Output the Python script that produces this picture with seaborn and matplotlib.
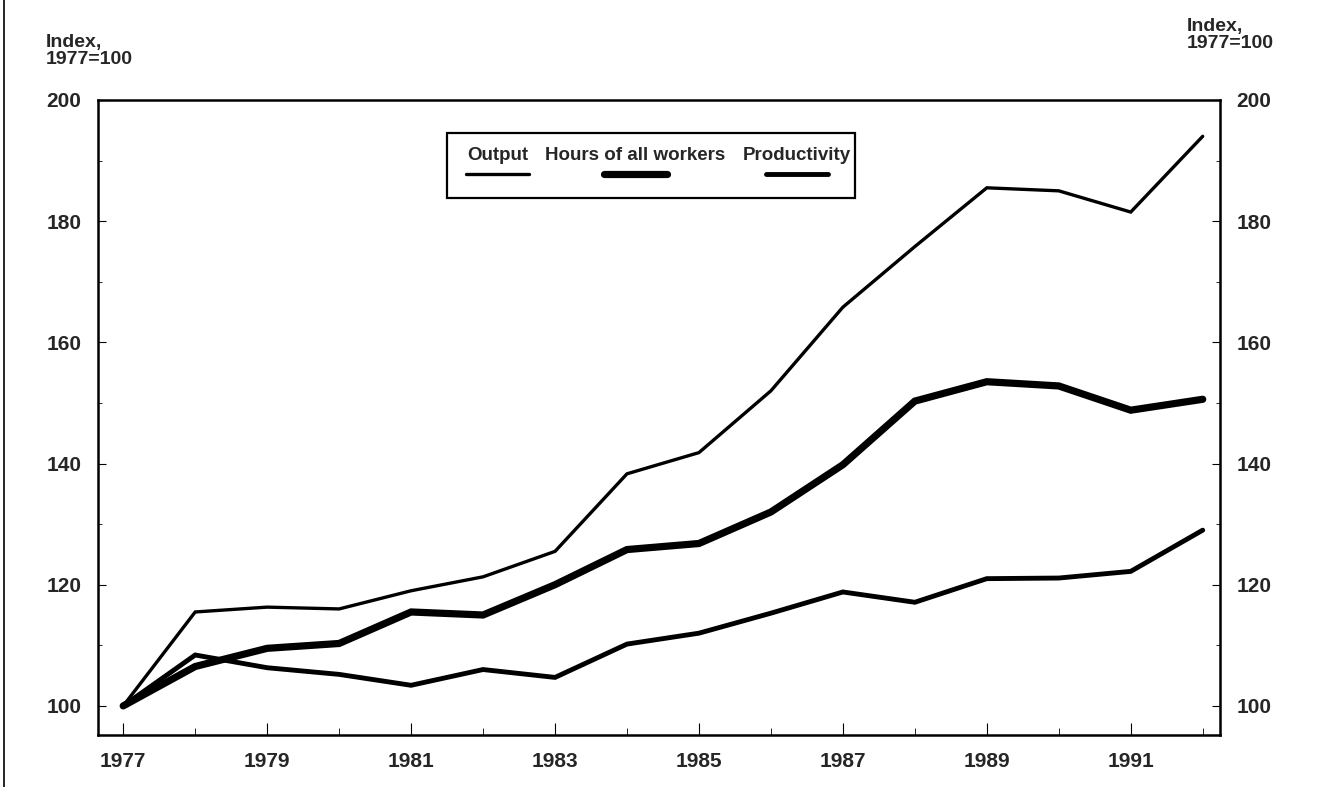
import numpy as np
import pandas as pd
import seaborn as sns
import matplotlib.pyplot as plt
from matplotlib.lines import Line2D
from matplotlib.patches import Rectangle
from matplotlib.ticker import MultipleLocator

years = list(range(1977, 1993))
output = [100, 115.5, 116.3, 116.0, 119.0, 121.3, 125.5, 138.3, 141.8, 152.0,
          165.8, 175.8, 185.5, 185.0, 181.5, 194.0]
hours = [100, 106.5, 109.5, 110.3, 115.5, 115.0, 120.0, 125.8, 126.8, 132.0,
         139.8, 150.3, 153.5, 152.8, 148.8, 150.6]
productivity = [100, 108.4, 106.3, 105.2, 103.4, 106.0, 104.7, 110.2, 112.0, 115.3,
                118.8, 117.1, 121.0, 121.1, 122.2, 129.0]
series_names = ["Output", "Hours of all workers", "Productivity"]
widths = [2.4, 5.2, 3.5]

df = pd.DataFrame({"year": years, "Output": output,
                   "Hours of all workers": hours, "Productivity": productivity})
long = df.melt(id_vars="year", var_name="series", value_name="index")

sns.set_style("ticks")
plt.rcParams['font.family'] = ['Liberation Sans', 'DejaVu Sans']
plt.rcParams['font.weight'] = 'bold'

fig = plt.figure(figsize=(13.32, 7.87), dpi=100)
ax = fig.add_axes([0.0736, 0.0661, 0.8423, 0.8069])

for name, lw in zip(series_names, widths):
    sub = long[long["series"] == name]
    sns.lineplot(data=sub, x="year", y="index", ax=ax, color="black",
                 linewidth=lw, solid_joinstyle="miter", legend=False)

ax.set_xlim(1976.65, 1992.24)
ax.set_ylim(95.2, 200)
ax.set_xticks(range(1977, 1993, 2))
ax.xaxis.set_minor_locator(MultipleLocator(1))
ax.yaxis.set_major_locator(MultipleLocator(20))
ax.yaxis.set_minor_locator(MultipleLocator(10))
ax.set_xlabel("")
ax.set_ylabel("")
ax.tick_params(axis="both", which="both", direction="in", color="black")
ax.tick_params(axis="y", which="major", length=6, width=0.8, right=True,
               labelright=True, labelsize=15, pad=12)
ax.tick_params(axis="y", which="minor", length=3, width=0.6, right=True)
ax.tick_params(axis="x", which="major", length=9, width=0.8, labelsize=15, pad=12)
ax.tick_params(axis="x", which="minor", length=5, width=0.6)
for lab in ax.get_xticklabels() + ax.get_yticklabels():
    lab.set_fontweight("bold")
for sp in ax.spines.values():
    sp.set_visible(True)
    sp.set_linewidth(1.8)
    sp.set_color("black")

# legend box: labels above line samples
ax.add_patch(Rectangle((0.311, 0.846), 0.364, 0.102, transform=ax.transAxes,
                       fill=False, edgecolor="black", linewidth=1.6, zorder=5))
text_x = [0.356, 0.479, 0.623]
for name, lw, tx in zip(series_names, widths, text_x):
    ax.text(tx, 0.913, name, transform=ax.transAxes, ha="center", va="center",
            fontsize=13.5, fontweight="bold", zorder=6)
    ax.add_line(Line2D([tx - 0.028, tx + 0.028], [0.883, 0.883],
                       transform=ax.transAxes, color="black",
                       linewidth=lw, solid_capstyle="round", zorder=6))

fig.text(0.034, 0.957, "Index,\n1977=100", ha="left", va="top", fontsize=14,
         fontweight="bold", linespacing=1.0)
fig.text(0.891, 0.977, "Index,\n1977=100", ha="left", va="top", fontsize=14,
         fontweight="bold", linespacing=1.0)

# page border remnant on the left
fig.add_artist(Line2D([0.003, 0.003], [0, 1], transform=fig.transFigure,
                      color="black", linewidth=1.2))

fig.savefig("out.png", dpi=100)
